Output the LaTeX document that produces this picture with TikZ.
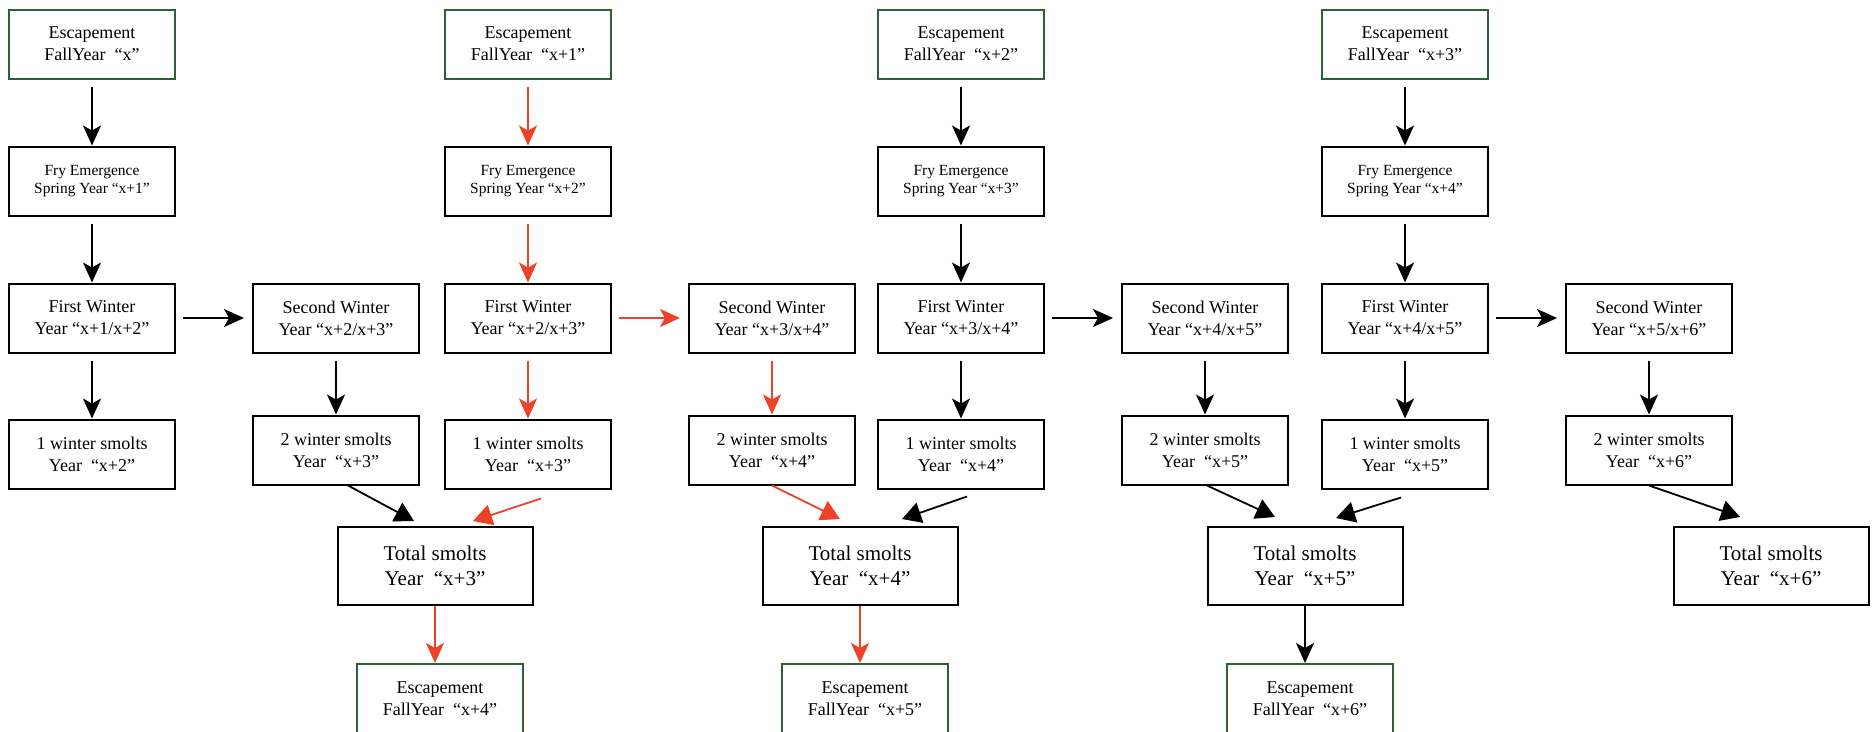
\documentclass[tikz,border=0pt]{standalone}
\usepackage{fontspec}
\setmainfont{Liberation Serif}
\usetikzlibrary{arrows.meta,positioning,calc}
\definecolor{escgreen}{RGB}{40,98,54}
\definecolor{pathred}{RGB}{238,66,40}

\begin{document}
\begin{tikzpicture}[x=1pt,y=-1pt,
  block/.style={draw,line width=2pt,rectangle,minimum width=166pt,minimum height=69pt,inner sep=2pt,align=center,font=\fontsize{18}{22}\selectfont},
  esc/.style={block,draw=escgreen},
  fry/.style={block,font=\fontsize{15.5}{18.5}\selectfont},
  total/.style={block,minimum width=195pt,minimum height=78pt,font=\fontsize{21}{25}\selectfont},
  conn/.style={line width=1.8pt,-{Stealth[length=20pt,width=18pt,inset=5pt]},shorten <=7pt},
  diag/.style={line width=1.8pt,-{Triangle[length=19pt,width=21pt]}},
  hot/.style={draw=pathred,fill=pathred},
  node distance=66pt and 76pt]

  \useasboundingbox (0,0) rectangle (1874,731);

        \node[esc] (EA) at (92,44) {Escapement\\FallYear~ “x”};
        \node[fry] (FA) [below = of EA] {Fry Emergence\\Spring Year “x+1”};
        \node[block] (WA) [below = of FA] {First Winter\\Year “x+1/x+2”};
        \node[block] (SA) [right = of WA] {Second Winter\\Year “x+2/x+3”};
        \node[block] (OA) [below = 65pt of WA] {1 winter smolts\\Year~ “x+2”};
        \node[block] (TA) [below = 61pt of SA] {2 winter smolts\\Year~ “x+3”};

        \node[esc] (EB) at (528,44) {Escapement\\FallYear~ “x+1”};
        \node[fry] (FB) [below = of EB] {Fry Emergence\\Spring Year “x+2”};
        \node[block] (WB) [below = of FB] {First Winter\\Year “x+2/x+3”};
        \node[block] (SB) [right = of WB] {Second Winter\\Year “x+3/x+4”};
        \node[block] (OB) [below = 65pt of WB] {1 winter smolts\\Year~ “x+3”};
        \node[block] (TB) [below = 61pt of SB] {2 winter smolts\\Year~ “x+4”};

        \node[esc] (EC) at (961,44) {Escapement\\FallYear~ “x+2”};
        \node[fry] (FC) [below = of EC] {Fry Emergence\\Spring Year “x+3”};
        \node[block] (WC) [below = of FC] {First Winter\\Year “x+3/x+4”};
        \node[block] (SC) [right = of WC] {Second Winter\\Year “x+4/x+5”};
        \node[block] (OC) [below = 65pt of WC] {1 winter smolts\\Year~ “x+4”};
        \node[block] (TC) [below = 61pt of SC] {2 winter smolts\\Year~ “x+5”};

        \node[esc] (ED) at (1405,44) {Escapement\\FallYear~ “x+3”};
        \node[fry] (FD) [below = of ED] {Fry Emergence\\Spring Year “x+4”};
        \node[block] (WD) [below = of FD] {First Winter\\Year “x+4/x+5”};
        \node[block] (SD) [right = of WD] {Second Winter\\Year “x+5/x+6”};
        \node[block] (OD) [below = 65pt of WD] {1 winter smolts\\Year~ “x+5”};
        \node[block] (TD) [below = 61pt of SD] {2 winter smolts\\Year~ “x+6”};

        \node[total] (XA) at (435,566) {Total smolts\\Year~ “x+3”};
        \node[total] (XB) at (860,566) {Total smolts\\Year~ “x+4”};
        \node[total] (XC) at (1305,566) {Total smolts\\Year~ “x+5”};
        \node[total] (XD) at (1771,566) {Total smolts\\Year~ “x+6”};

        \node[esc] (BA) [below = 57pt of XA, xshift=5pt] {Escapement\\FallYear~ “x+4”};
        \node[esc] (BB) [below = 57pt of XB, xshift=5pt] {Escapement\\FallYear~ “x+5”};
        \node[esc] (BC) [below = 57pt of XC, xshift=5pt] {Escapement\\FallYear~ “x+6”};

        \draw[conn] (EA) -- (FA);
        \draw[conn] (FA) -- (WA);
        \draw[conn] (WA) -- (OA);
        \draw[conn,shorten >=8pt] (WA) -- (SA);
        \draw[conn] (SA) -- (TA);

        \draw[conn,hot] (EB) -- (FB);
        \draw[conn,hot] (FB) -- (WB);
        \draw[conn,hot] (WB) -- (OB);
        \draw[conn,hot,shorten >=8pt] (WB) -- (SB);
        \draw[conn,hot] (SB) -- (TB);

        \draw[conn] (EC) -- (FC);
        \draw[conn] (FC) -- (WC);
        \draw[conn] (WC) -- (OC);
        \draw[conn,shorten >=8pt] (WC) -- (SC);
        \draw[conn] (SC) -- (TC);

        \draw[conn] (ED) -- (FD);
        \draw[conn] (FD) -- (WD);
        \draw[conn] (WD) -- (OD);
        \draw[conn,shorten >=8pt] (WD) -- (SD);
        \draw[conn] (SD) -- (TD);

        \draw[diag] ([xshift=12pt]TA.south) -- ([xshift=-21pt,yshift=5pt]XA.north);
        \draw[diag,hot] ([xshift=13pt,yshift=-9pt]OB.south) -- ([xshift=38pt,yshift=5pt]XA.north);
        \draw[diag,hot] (TB.south) -- ([xshift=-20pt,yshift=7pt]XB.north);
        \draw[diag] ([xshift=6pt,yshift=-7pt]OC.south) -- ([xshift=42pt,yshift=7pt]XB.north);
        \draw[diag] ([xshift=2pt]TC.south) -- ([xshift=-30pt,yshift=9pt]XC.north);
        \draw[diag] ([xshift=-4pt,yshift=-8pt]OD.south) -- ([xshift=31pt,yshift=8pt]XC.north);
        \draw[diag] (TD.south) -- ([xshift=-31pt,yshift=9pt]XD.north);

        \draw[conn,hot,shorten <=0pt] (XA.south) -- (XA.south |- BA.north);
        \draw[conn,hot,shorten <=0pt] (XB.south) -- (XB.south |- BB.north);
        \draw[conn,shorten <=0pt] (XC.south) -- (XC.south |- BC.north);
      \end{tikzpicture}
\end{document}
